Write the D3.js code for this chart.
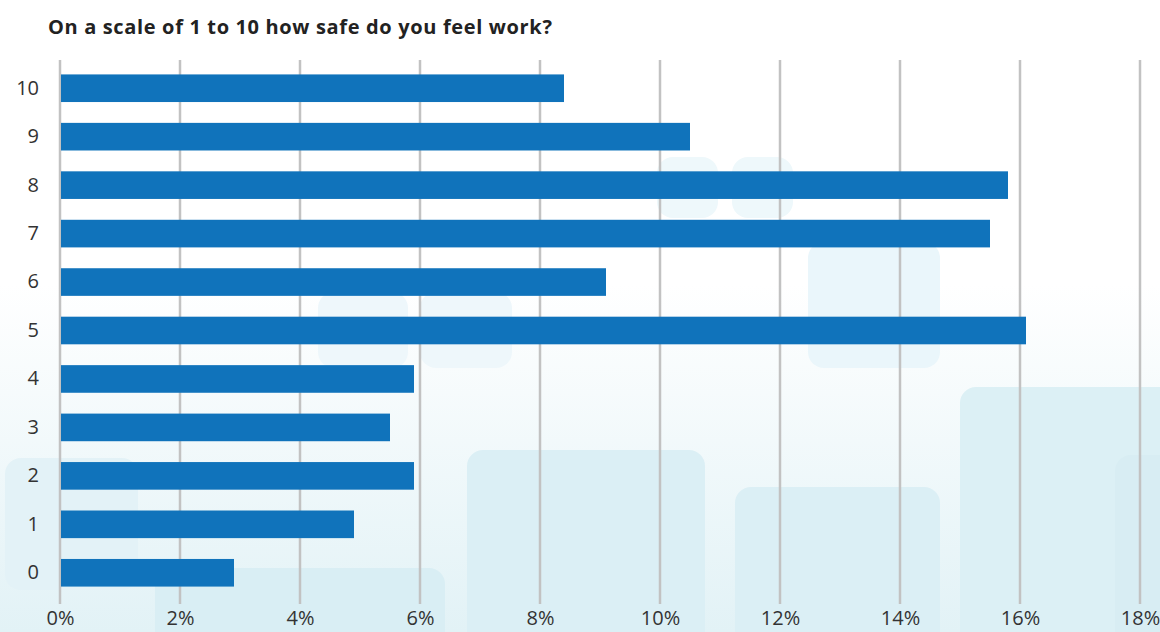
<!DOCTYPE html>
<html>
<head>
<meta charset="utf-8">
<script src="https://cdn.jsdelivr.net/npm/d3@7"></script>
<style>
  html, body { margin: 0; padding: 0; background: #fff; }
  svg { display: block; }
</style>
</head>
<body>
<div id="chart"></div>
<script>
// data
const categories = ['10', '9', '8', '7', '6', '5', '4', '3', '2', '1', '0']
const values = [8.4, 10.5, 15.8, 15.5, 9.1, 16.1, 5.9, 5.5, 5.9, 4.9, 2.9]
const tickValues = [0, 2, 4, 6, 8, 10, 12, 14, 16, 18]
const title = 'On a scale of 1 to 10 how safe do you feel work?'

const width = 1160
const height = 632

const svg = d3.select('#chart').append('svg')
    .attr('width', width)
    .attr('height', height)

// soft background: white fading into pale blue, with faint rounded tiles
const defs = svg.append('defs')
const grad = defs.append('linearGradient')
    .attr('id', 'bg')
    .attr('x1', 0).attr('y1', 0).attr('x2', 0).attr('y2', 1)
grad.append('stop').attr('offset', '0.45').attr('stop-color', '#ffffff')
grad.append('stop').attr('offset', '1').attr('stop-color', '#e2f2f6')

svg.append('rect')
    .attr('width', width)
    .attr('height', height)
    .attr('fill', 'url(#bg)')

// decoration only, not data
const tiles = [
    [657, 157, 61, 61, '#eef8fb'], [732, 157, 61, 61, '#eef8fb'],
    [318, 292, 90, 76, '#eef7fb'], [420, 292, 92, 76, '#eef7fb'],
    [808, 242, 132, 126, '#eaf6fb'],
    [5, 458, 133, 132, '#e3f2f7'], [155, 568, 290, 80, '#d9eef4'],
    [467, 450, 238, 200, '#dbeff5'], [735, 487, 205, 160, '#dbeff5'],
    [960, 387, 220, 260, '#dcf0f5'], [1115, 455, 60, 200, '#d8edf3']
]
svg.append('g').selectAll('rect')
    .data(tiles)
    .enter()
    .append('rect')
    .attr('x', d => d[0])
    .attr('y', d => d[1])
    .attr('width', d => d[2])
    .attr('height', d => d[3])
    .attr('rx', 16)
    .attr('fill', d => d[4])

const x = d3.scaleLinear()
    .domain([0, 18])
    .range([60, 1140])

const y = d3.scaleBand()
    .domain(categories)
    .range([64, 597])
    .paddingInner(0.43)
    .paddingOuter(0.215)

// title
svg.append('text')
    .attr('x', 48)
    .attr('y', 34)
    .attr('font-family', '"Open Sans", sans-serif')
    .attr('font-weight', 'bold')
    .attr('font-size', 20)
    .attr('letter-spacing', 0.65)
    .attr('fill', '#222')
    .text(title)

// vertical grid lines
svg.append('g').selectAll('line')
    .data(tickValues)
    .enter()
    .append('line')
    .attr('x1', d => x(d))
    .attr('x2', d => x(d))
    .attr('y1', 60)
    .attr('y2', 604)
    .attr('stroke', '#c2c2c2')
    .attr('stroke-width', 2.5)

// bars
svg.append('g').selectAll('rect')
    .data(values)
    .enter()
    .append('rect')
    .attr('x', x(0) + 1)
    .attr('y', (d, i) => y(categories[i]))
    .attr('width', d => x(d) - x(0) - 1)
    .attr('height', y.bandwidth())
    .attr('fill', '#1073bb')

// x axis labels
const xAxis = svg.append('g')
    .attr('transform', 'translate(0,' + 625 + ')')
    .call(d3.axisBottom(x).tickValues(tickValues).tickFormat(d => d + '%').tickSize(0))
xAxis.select('.domain').remove()
xAxis.selectAll('text')
    .attr('dy', null)
    .attr('y', 0)
    .attr('font-family', '"Open Sans", sans-serif')
    .attr('font-size', 20)
    .attr('fill', '#333')

// y axis labels
const yAxis = svg.append('g')
    .attr('transform', 'translate(39,0)')
    .call(d3.axisLeft(y).tickSize(0).tickPadding(0))
yAxis.select('.domain').remove()
yAxis.selectAll('text')
    .attr('font-family', '"Open Sans", sans-serif')
    .attr('font-size', 20)
    .attr('fill', '#333')
</script>
</body>
</html>
